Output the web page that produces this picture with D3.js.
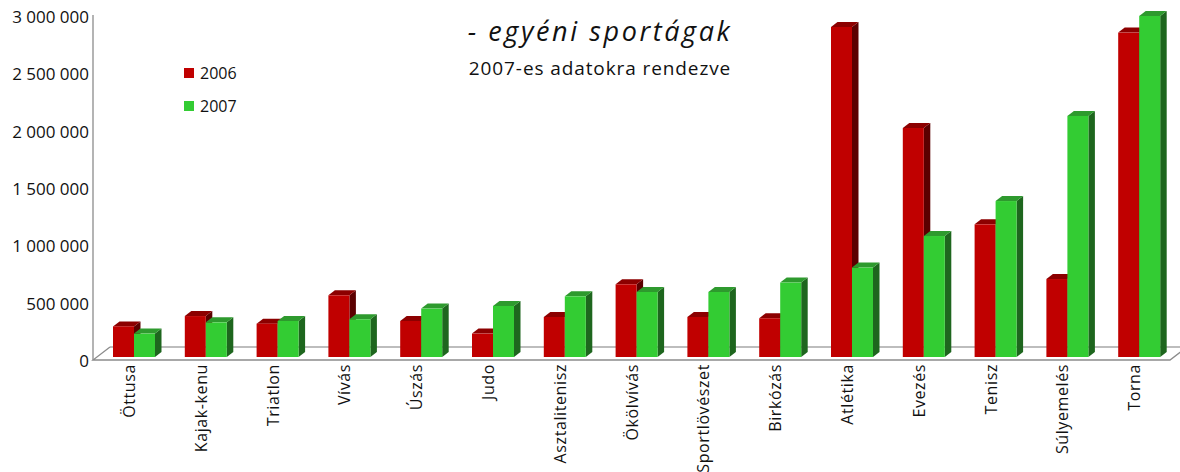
<!DOCTYPE html>
<html>
<head>
<meta charset="utf-8">
<script src="https://cdn.jsdelivr.net/npm/d3@7"></script>
<style>
  body { margin: 0; background: #fff; }
  text { font-family: "Open Sans", sans-serif; fill: #111; }
</style>
</head>
<body>
<div class="container"></div>
<script>
// data
var categories = ["Öttusa", "Kajak-kenu", "Triatlon", "Vívás", "Úszás", "Judo", "Asztalitenisz",
  "Ökölvívás", "Sportlövészet", "Birkózás", "Atlétika", "Evezés", "Tenisz", "Súlyemelés", "Torna"];
var series = ["2006", "2007"];
var values2006 = [267000, 357000, 291000, 538000, 314000, 204000, 349000, 634000, 349000, 338000, 2878000, 1997000, 1157000, 680000, 2829000];
var values2007 = [204000, 302000, 314000, 329000, 422000, 445000, 529000, 567000, 567000, 649000, 780000, 1055000, 1360000, 2102000, 2974000];
var yTicks = [0, 500000, 1000000, 1500000, 2000000, 2500000, 3000000];

const WIDTH = 1180;
const HEIGHT = 472;
const DEPTH_X = 17, DEPTH_Y = 13;     // floor depth
const BAR_DX = 6.5, BAR_DY = 5;       // bar depth
const BAR_W = 21;

var colors = {
  "2006": { front: "#c00000", top: "#8c0000", side: "#5c0000" },
  "2007": { front: "#33cc33", top: "#2e9a2e", side: "#1e661e" }
};

var svg = d3.select('.container').append('svg').attr("width", WIDTH).attr("height", HEIGHT);

var x = d3.scaleBand().domain(categories).range([93, 1170]);
var y = d3.scaleLinear().domain([0, 3000000]).range([357, 13]);

// floor
var floorY = 360;
svg.append('line')
  .attr("x1", 93 + DEPTH_X).attr("y1", floorY - DEPTH_Y)
  .attr("x2", WIDTH).attr("y2", floorY - DEPTH_Y)
  .attr("stroke", "#bdbdbd").attr("stroke-width", 2);
svg.append('polyline')
  .attr("points", [[93 + DEPTH_X, floorY - DEPTH_Y], [93, floorY], [1170, floorY], [1170 + DEPTH_X, floorY - DEPTH_Y]].join(" "))
  .attr("fill", "none").attr("stroke", "#8c8c8c").attr("stroke-width", 1.3);

// y axis line and labels
svg.append('line')
  .attr("x1", 93).attr("y1", 15).attr("x2", 93).attr("y2", floorY)
  .attr("stroke", "#8c8c8c").attr("stroke-width", 1.3);

svg.selectAll('.ytick').data(yTicks).enter().append('text')
  .attr('class', 'ytick')
  .attr("x", 89)
  .attr("y", function(d){ return y(d) + 4; })
  .attr("dy", "0.35em")
  .attr("text-anchor", "end")
  .style("font-size", "17px")
  .text(function(d){ return d3.format(",")(d).replace(/,/g, " "); });

// bars
var drawBar = function(x0, v, c){
  var top = y(v), base = y(0);
  svg.append('polygon')
    .attr('points', [[x0 + BAR_W, top], [x0 + BAR_W + BAR_DX, top - BAR_DY], [x0 + BAR_W + BAR_DX, base - BAR_DY], [x0 + BAR_W, base]].join(" "))
    .attr('fill', c.side);
  svg.append('polygon')
    .attr('points', [[x0, top], [x0 + BAR_DX, top - BAR_DY], [x0 + BAR_W + BAR_DX, top - BAR_DY], [x0 + BAR_W, top]].join(" "))
    .attr('fill', c.top);
  svg.append('rect')
    .attr("x", x0).attr("y", top)
    .attr("width", BAR_W).attr("height", base - top)
    .attr('fill', c.front);
};

categories.forEach(function(cat, i){
  var x0 = x(cat) + 20;
  drawBar(x0, values2006[i], colors["2006"]);
  drawBar(x0 + BAR_W, values2007[i], colors["2007"]);
});

// category labels
svg.selectAll('.xlabel').data(categories).enter().append('text')
  .attr('class', 'xlabel')
  .attr("transform", function(d){ return "translate(" + (x(d) + x.bandwidth() / 2 + 6) + "," + 364 + ") rotate(-90)"; })
  .attr("text-anchor", "end")
  .style("font-size", "16px")
  .style("letter-spacing", "0.6px")
  .text(function(d){ return d; });

// title
svg.append('text')
  .attr("x", 600).attr("y", 41)
  .attr("text-anchor", "middle")
  .style("font-size", "27px")
  .style("font-style", "italic")
  .style("letter-spacing", "2.6px")
  .text("- egyéni sportágak");
svg.append('text')
  .attr("x", 600).attr("y", 75)
  .attr("text-anchor", "middle")
  .style("font-size", "19px")
  .style("letter-spacing", "0.9px")
  .text("2007-es adatokra rendezve");

// legend
series.forEach(function(s, i){
  svg.append('rect')
    .attr("x", 184).attr("y", 68 + i * 33)
    .attr("width", 10).attr("height", 10)
    .attr("fill", colors[s].front);
  svg.append('text')
    .attr("x", 200).attr("y", 73 + i * 33)
    .attr("dy", "0.35em")
    .style("font-size", "16px")
    .text(s);
});
</script>
</body>
</html>
